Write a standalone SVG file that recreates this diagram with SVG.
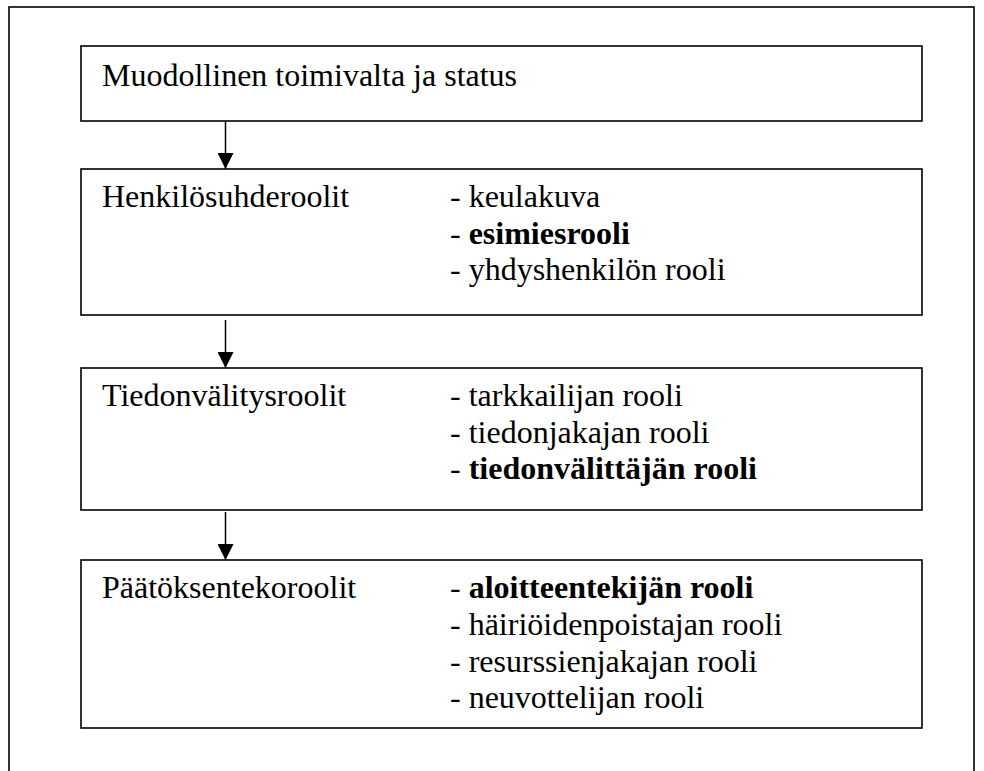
<svg xmlns="http://www.w3.org/2000/svg" width="984" height="771" viewBox="0 0 984 771">
<style>
.box{fill:#fff;stroke:#000;stroke-width:1.6}
.t{font-family:"Liberation Serif","Times New Roman",serif;font-size:32px;fill:#000}
.b{font-weight:bold}
.c{stroke:#000;stroke-width:1.5;fill:none}
</style>
<defs>
<marker id="ah" markerUnits="userSpaceOnUse" markerWidth="16" markerHeight="16" refX="16" refY="8" orient="auto">
<path d="M0,0 L16,8 L0,16 Z" fill="#000"/>
</marker>
</defs>
<rect x="9" y="7" width="965" height="780" fill="none" stroke="#000" stroke-width="1.6"/>
<g id="n1">
<rect class="box" x="81" y="46" width="841" height="75"/>
<text class="t" x="102" y="86">Muodollinen toimivalta ja status</text>
</g>
<g id="n2">
<rect class="box" x="81" y="169" width="841" height="146"/>
<text class="t" x="102" y="207">Henkilösuhderoolit</text>
<text class="t" x="450" y="207">- keulakuva</text>
<text class="t" x="450" y="244">- <tspan class="b">esimiesrooli</tspan></text>
<text class="t" x="450" y="280">- yhdyshenkilön rooli</text>
</g>
<g id="n3">
<rect class="box" x="81" y="368" width="841" height="142"/>
<text class="t" x="102" y="406">Tiedonvälitysroolit</text>
<text class="t" x="450" y="406">- tarkkailijan rooli</text>
<text class="t" x="450" y="443">- tiedonjakajan rooli</text>
<text class="t" x="450" y="479">- <tspan class="b">tiedonvälittäjän rooli</tspan></text>
</g>
<g id="n4">
<rect class="box" x="81" y="560" width="841" height="168"/>
<text class="t" x="102" y="598">Päätöksentekoroolit</text>
<text class="t" x="450" y="598">- <tspan class="b">aloitteentekijän rooli</tspan></text>
<text class="t" x="450" y="635">- häiriöidenpoistajan rooli</text>
<text class="t" x="450" y="672">- resurssienjakajan rooli</text>
<text class="t" x="450" y="708">- neuvottelijan rooli</text>
</g>
<g id="connectors">
<line class="c" x1="225.5" y1="121" x2="225.5" y2="169" marker-end="url(#ah)"/>
<line class="c" x1="225.5" y1="320" x2="225.5" y2="368" marker-end="url(#ah)"/>
<line class="c" x1="225.5" y1="512" x2="225.5" y2="560" marker-end="url(#ah)"/>
</g>
</svg>
